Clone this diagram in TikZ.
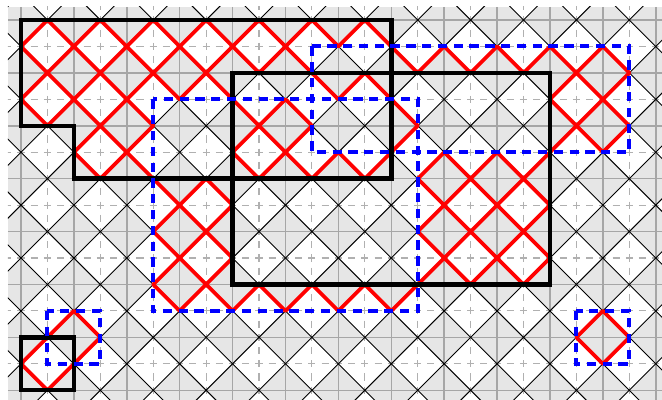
\documentclass[tikz,border=0pt]{standalone}
\definecolor{bggrey}{HTML}{E6E6E6}
\definecolor{gridsolid}{HTML}{A6A6A6}
\definecolor{griddash}{HTML}{B0B0B0}
\tikzset{
  redline/.style={red, line width=2pt, line cap=round},
  blackbox/.style={black, line width=2.4pt, line join=miter},
  bluebox/.style={blue, line width=2.1pt, dash pattern=on 5pt off 3.5pt},
  diagline/.style={black, line width=0.5pt},
  gridmajor/.style={gridsolid, line width=0.8pt},
  gridminor/.style={griddash, line width=0.6pt, dash pattern=on 3.8pt off 3.313pt, dash phase=1.9pt},
}
\begin{document}
\begin{tikzpicture}[x=0.5cm, y=-0.5cm]
\useasboundingbox (-0.794,-0.756) rectangle (24.236,14.367);
\begin{scope}
  \clip (-0.5,-0.5) rectangle (24.5,14.5);
  \fill[bggrey] (-0.5,-0.5) rectangle (24.5,14.5);
  \foreach \i in {-1,1,...,25} {
    \foreach \j in {-1,1,...,15} {
      \fill[white] (\i-1,\j) -- (\i,\j-1) -- (\i+1,\j) -- (\i,\j+1) -- cycle;
    }
  }
  \foreach \x in {0,2,...,24} \draw[gridmajor] (\x,-0.5) -- (\x,14.5);
  \foreach \y in {0,2,...,14} \draw[gridmajor] (-0.5,\y) -- (24.5,\y);
  \foreach \x in {1,3,...,23} \draw[gridminor] (\x,-1) -- (\x,15);
  \foreach \y in {1,3,...,13} \draw[gridminor] (-1,\y) -- (25,\y);
  \foreach \k in {-15,-13,...,39} \draw[diagline] (\k+1,-1) -- (\k-16,16);
  \foreach \k in {-17,-15,...,25} \draw[diagline] (\k-1,-1) -- (\k+16,16);
\end{scope}
% red diagonals in cells covered an odd number of times
\foreach \i in {0,...,23} {
  \foreach \j in {0,...,13} {
    \pgfmathtruncatemacro\cnt{(\i<14)*(\j<6) + (\i<2)*(\j>3)*(\j<6) + (\i>7)*(\i<20)*(\j>1)*(\j<10) + (\i>10)*(\i<23)*(\j>0)*(\j<5) + (\i>4)*(\i<15)*(\j>2)*(\j<11) + (\i<2)*(\j>11) + (\i>0)*(\i<3)*(\j>10)*(\j<13) + (\i>20)*(\i<23)*(\j>10)*(\j<13)}
    \pgfmathtruncatemacro\pty{mod(\i+\j,2)}
    \ifodd\cnt\relax
      \ifnum\pty=0\relax
        \draw[redline] (\i,\j+1) -- (\i+1,\j);
      \else
        \draw[redline] (\i,\j) -- (\i+1,\j+1);
      \fi
    \fi
  }
}
% black outlines
\draw[blackbox] (0,0) -- (14,0) -- (14,6) -- (2,6) -- (2,4) -- (0,4) -- cycle;
\draw[blackbox] (8,2) rectangle (20,10);
\draw[blackbox] (0,12) rectangle (2,14);
% blue dashed outlines
\draw[bluebox] (11,1) rectangle (23,5);
\draw[bluebox] (5,3) rectangle (15,11);
\draw[bluebox] (1,11) rectangle (3,13);
\draw[bluebox] (21,11) rectangle (23,13);
\end{tikzpicture}
\end{document}
